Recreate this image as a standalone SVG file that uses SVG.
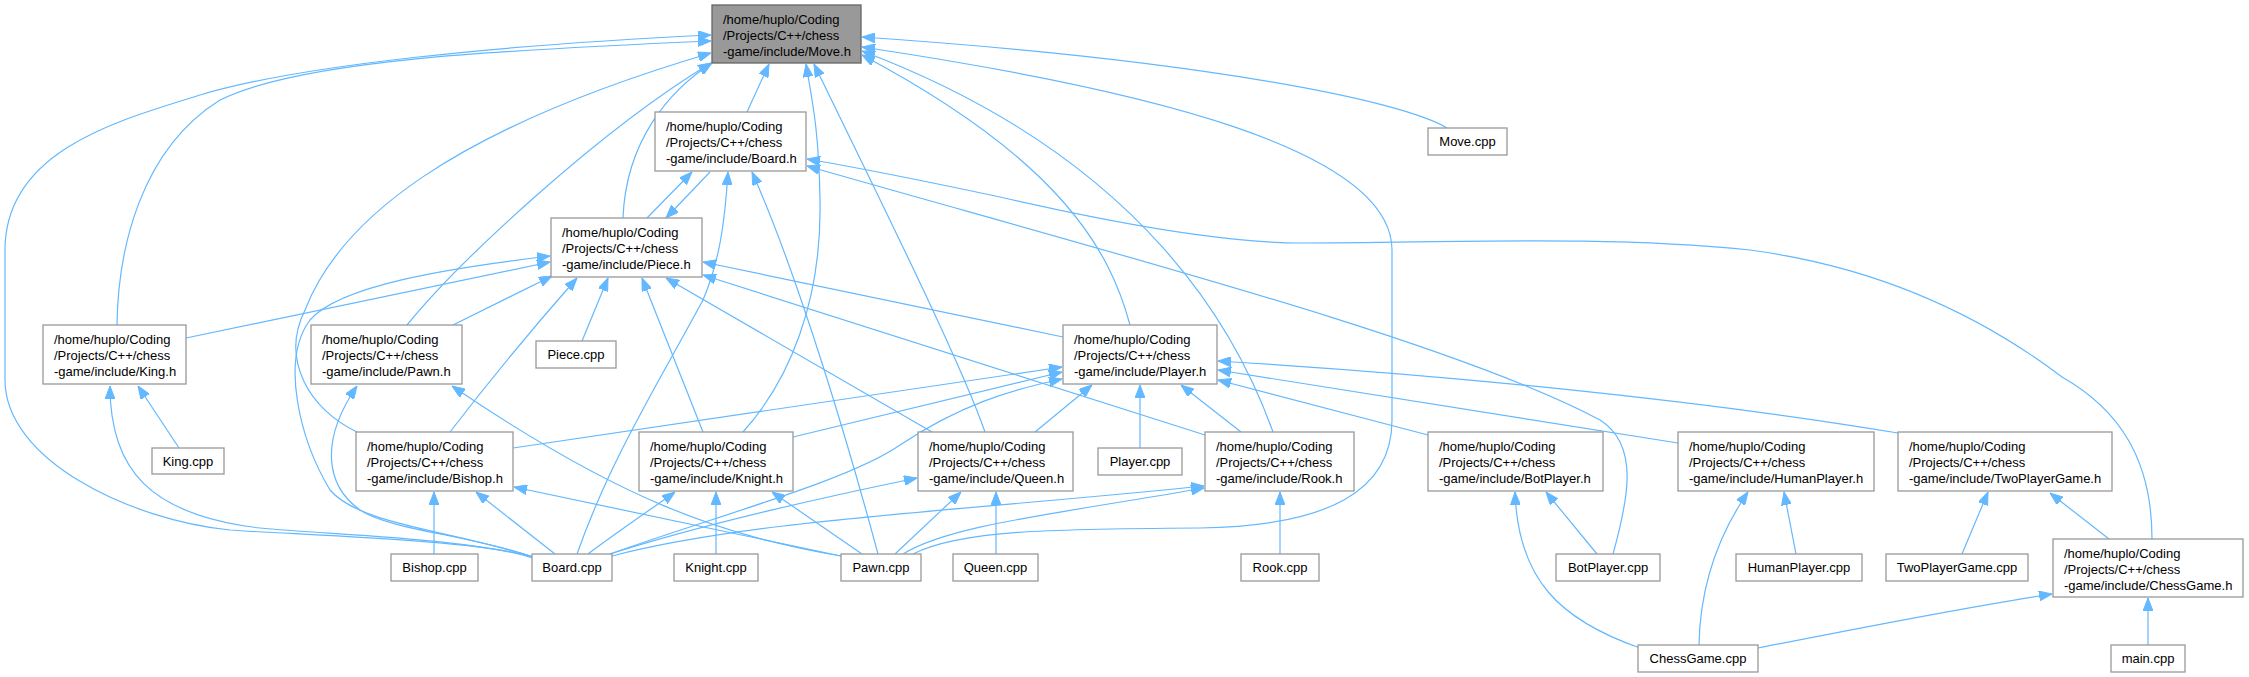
<svg xmlns="http://www.w3.org/2000/svg" width="2249" height="677" viewBox="0 0 2249 677">
<style>
.n rect{fill:#fff;stroke:#999;stroke-width:1.3}
.root rect{fill:#999;stroke:#666;stroke-width:1.3}
text{font-family:"Liberation Sans",Arial,Helvetica,sans-serif;font-size:13px;fill:#000}
.c{text-anchor:middle}
#edges path{fill:none;stroke:#63b8ff;stroke-width:1.2;marker-end:url(#arr)}
</style>
<defs>
<marker id="arr" markerUnits="userSpaceOnUse" markerWidth="13" markerHeight="10" refX="13" refY="5" orient="auto">
<path d="M0,0 L13,5 L0,10 z" fill="#63b8ff" stroke="#63b8ff" stroke-width="1"/>
</marker>
</defs>
<rect width="2249" height="677" fill="#fff"/>
<g id="edges">
<!-- into Move.h -->
<path d="M747,112 L769,64"/>
<path d="M623,218 C626,140 670,90 712,63"/>
<path d="M407,325 C460,260 600,130 711,63"/>
<path d="M357,432 C310,410 280,360 305,310 C340,220 450,130 711,53"/>
<path d="M117,325 C118,250 140,150 220,100 C300,60 500,50 711,41"/>
<path d="M533,557 C480,540 300,535 230,530 C130,520 5,460 5,380 L5,250 C5,150 120,120 200,95 C300,65 500,45 711,35"/>
<path d="M743,432 C790,380 822,300 820,200 C819,130 812,100 806,64"/>
<path d="M985,432 C960,360 880,200 814,64"/>
<path d="M1273,432 C1240,340 1150,160 862,51"/>
<path d="M1130,325 C1110,250 1060,160 862,55"/>
<path d="M913,554 C960,530 1050,529 1200,528 C1330,526 1392,490 1392,420 L1392,250 C1392,150 1150,90 862,47"/>
<path d="M1447,128 C1400,100 1200,60 862,37"/>
<!-- Board.h / Piece.h -->
<path d="M710,172 L666,218"/>
<path d="M647,218 L692,172"/>
<path d="M186,338 L550,262"/>
<path d="M453,325 L552,276"/>
<path d="M450,432 C490,380 540,320 577,278"/>
<path d="M703,432 L642,278"/>
<path d="M932,432 L666,278"/>
<path d="M1205,435 L703,275"/>
<path d="M1063,337 L703,262"/>
<path d="M582,341 L608,278"/>
<path d="M533,557 C450,530 360,525 330,490 C300,440 280,360 310,320 C340,285 450,268 550,256"/>
<!-- Board.cpp -->
<path d="M533,558 C470,538 330,535 260,528 C150,515 110,470 110,386"/>
<path d="M533,557 C470,535 390,530 360,510 C325,485 320,440 357,386"/>
<path d="M555,554 L476,492"/>
<path d="M577,554 C610,460 660,380 703,300 C720,260 725,220 728,172"/>
<path d="M588,554 C620,530 650,510 675,492"/>
<path d="M610,554 C700,525 820,498 917,478"/>
<path d="M612,556 C750,520 950,512 1204,486"/>
<path d="M610,554 C720,515 850,480 900,445 C960,405 1010,390 1062,379"/>
<!-- Player.h in -->
<path d="M513,448 L1062,367"/>
<path d="M793,437 L1062,372"/>
<path d="M1035,432 L1092,385"/>
<path d="M1241,432 L1181,385"/>
<path d="M1140,448 L1140,385"/>
<path d="M1428,435 L1218,380"/>
<path d="M1678,443 L1218,370"/>
<path d="M1898,433 C1700,400 1450,375 1218,361"/>
<!-- Pawn.cpp -->
<path d="M841,556 C720,535 620,500 452,386"/>
<path d="M841,556 L514,487"/>
<path d="M862,554 L772,492"/>
<path d="M878,554 C850,450 800,280 752,172"/>
<path d="M895,554 L961,492"/>
<path d="M903,554 C950,525 1050,515 1204,488"/>
<!-- leaf / misc -->
<path d="M179,448 L138,386"/>
<path d="M434,554 L434,492"/>
<path d="M716,554 L716,492"/>
<path d="M996,554 L996,492"/>
<path d="M1280,554 L1280,492"/>
<path d="M1597,554 L1546,492"/>
<path d="M1613,554 C1628,500 1640,445 1600,420 C1450,340 1100,250 807,166"/>
<path d="M1796,554 L1784,492"/>
<path d="M1699,645 C1700,590 1715,540 1748,492"/>
<path d="M1640,648 C1560,620 1518,580 1515,492"/>
<path d="M1758,648 C1860,628 1960,608 2052,594"/>
<path d="M1962,554 L1988,492"/>
<path d="M2109,539 L2050,493"/>
<path d="M2148,645 L2148,598"/>
<path d="M2152,539 C2152,460 2120,410 2062,377 C2000,330 1900,270 1750,250 C1600,235 1450,243 1300,243 C1220,243 1100,220 1000,197 C920,180 860,168 807,159"/>
</g>
<g id="node-Move_h" class="root"><rect x="712" y="5" width="149" height="58"/><text x="723" y="24">/home/huplo/Coding</text><text x="723" y="40">/Projects/C++/chess</text><text x="723" y="56">-game/include/Move.h</text></g>
<g id="node-Move_cpp" class="n"><rect x="1428" y="128" width="79" height="27"/><text class="c" x="1467.5" y="146">Move.cpp</text></g>
<g id="node-Board_h" class="n"><rect x="655" y="112" width="151" height="59"/><text x="666" y="131">/home/huplo/Coding</text><text x="666" y="147">/Projects/C++/chess</text><text x="666" y="163">-game/include/Board.h</text></g>
<g id="node-Piece_h" class="n"><rect x="551" y="218" width="151" height="59"/><text x="562" y="237">/home/huplo/Coding</text><text x="562" y="253">/Projects/C++/chess</text><text x="562" y="269">-game/include/Piece.h</text></g>
<g id="node-King_h" class="n"><rect x="43" y="325" width="143" height="59"/><text x="54" y="344">/home/huplo/Coding</text><text x="54" y="360">/Projects/C++/chess</text><text x="54" y="376">-game/include/King.h</text></g>
<g id="node-Pawn_h" class="n"><rect x="311" y="325" width="151" height="59"/><text x="322" y="344">/home/huplo/Coding</text><text x="322" y="360">/Projects/C++/chess</text><text x="322" y="376">-game/include/Pawn.h</text></g>
<g id="node-Player_h" class="n"><rect x="1063" y="325" width="154" height="59"/><text x="1074" y="344">/home/huplo/Coding</text><text x="1074" y="360">/Projects/C++/chess</text><text x="1074" y="376">-game/include/Player.h</text></g>
<g id="node-King_cpp" class="n"><rect x="152" y="448" width="72" height="26"/><text class="c" x="188" y="466">King.cpp</text></g>
<g id="node-Piece_cpp" class="n"><rect x="536" y="341" width="80" height="27"/><text class="c" x="576" y="359">Piece.cpp</text></g>
<g id="node-Player_cpp" class="n"><rect x="1098" y="448" width="84" height="27"/><text class="c" x="1140" y="466">Player.cpp</text></g>
<g id="node-Bishop_h" class="n"><rect x="356" y="432" width="157" height="59"/><text x="367" y="451">/home/huplo/Coding</text><text x="367" y="467">/Projects/C++/chess</text><text x="367" y="483">-game/include/Bishop.h</text></g>
<g id="node-Knight_h" class="n"><rect x="639" y="432" width="154" height="59"/><text x="650" y="451">/home/huplo/Coding</text><text x="650" y="467">/Projects/C++/chess</text><text x="650" y="483">-game/include/Knight.h</text></g>
<g id="node-Queen_h" class="n"><rect x="918" y="432" width="155" height="59"/><text x="929" y="451">/home/huplo/Coding</text><text x="929" y="467">/Projects/C++/chess</text><text x="929" y="483">-game/include/Queen.h</text></g>
<g id="node-Rook_h" class="n"><rect x="1205" y="432" width="149" height="59"/><text x="1216" y="451">/home/huplo/Coding</text><text x="1216" y="467">/Projects/C++/chess</text><text x="1216" y="483">-game/include/Rook.h</text></g>
<g id="node-BotPlayer_h" class="n"><rect x="1428" y="432" width="175" height="59"/><text x="1439" y="451">/home/huplo/Coding</text><text x="1439" y="467">/Projects/C++/chess</text><text x="1439" y="483">-game/include/BotPlayer.h</text></g>
<g id="node-HumanPlayer_h" class="n"><rect x="1678" y="432" width="196" height="59"/><text x="1689" y="451">/home/huplo/Coding</text><text x="1689" y="467">/Projects/C++/chess</text><text x="1689" y="483">-game/include/HumanPlayer.h</text></g>
<g id="node-TwoPlayerGame_h" class="n"><rect x="1898" y="432" width="214" height="59"/><text x="1909" y="451">/home/huplo/Coding</text><text x="1909" y="467">/Projects/C++/chess</text><text x="1909" y="483">-game/include/TwoPlayerGame.h</text></g>
<g id="node-ChessGame_h" class="n"><rect x="2053" y="539" width="190" height="58"/><text x="2064" y="558">/home/huplo/Coding</text><text x="2064" y="574">/Projects/C++/chess</text><text x="2064" y="590">-game/include/ChessGame.h</text></g>
<g id="node-Bishop_cpp" class="n"><rect x="391" y="554" width="87" height="27"/><text class="c" x="434.5" y="572">Bishop.cpp</text></g>
<g id="node-Board_cpp" class="n"><rect x="532" y="554" width="80" height="27"/><text class="c" x="572" y="572">Board.cpp</text></g>
<g id="node-Knight_cpp" class="n"><rect x="674" y="554" width="84" height="27"/><text class="c" x="716" y="572">Knight.cpp</text></g>
<g id="node-Pawn_cpp" class="n"><rect x="841" y="554" width="80" height="27"/><text class="c" x="881" y="572">Pawn.cpp</text></g>
<g id="node-Queen_cpp" class="n"><rect x="953" y="554" width="85" height="27"/><text class="c" x="995.5" y="572">Queen.cpp</text></g>
<g id="node-Rook_cpp" class="n"><rect x="1241" y="554" width="78" height="27"/><text class="c" x="1280" y="572">Rook.cpp</text></g>
<g id="node-BotPlayer_cpp" class="n"><rect x="1556" y="554" width="104" height="27"/><text class="c" x="1608" y="572">BotPlayer.cpp</text></g>
<g id="node-HumanPlayer_cpp" class="n"><rect x="1736" y="554" width="126" height="27"/><text class="c" x="1799" y="572">HumanPlayer.cpp</text></g>
<g id="node-TwoPlayerGame_cpp" class="n"><rect x="1886" y="554" width="142" height="27"/><text class="c" x="1957" y="572">TwoPlayerGame.cpp</text></g>
<g id="node-ChessGame_cpp" class="n"><rect x="1638" y="645" width="120" height="27"/><text class="c" x="1698" y="663">ChessGame.cpp</text></g>
<g id="node-main_cpp" class="n"><rect x="2111" y="645" width="74" height="27"/><text class="c" x="2148" y="663">main.cpp</text></g>
</svg>
